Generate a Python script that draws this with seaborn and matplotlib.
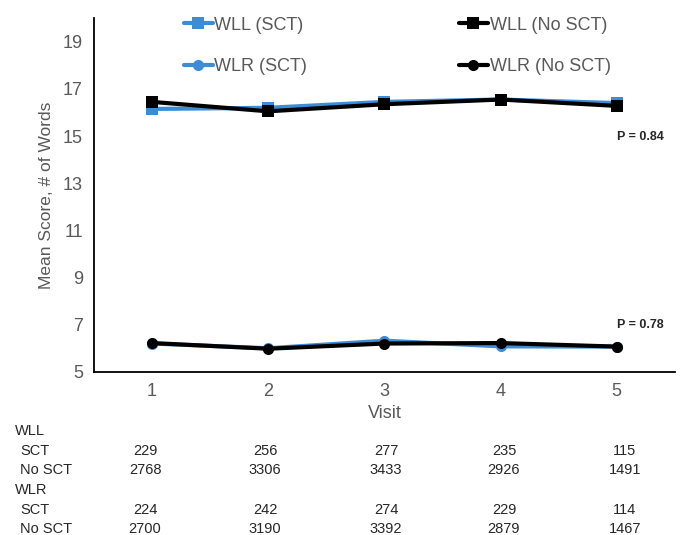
import numpy as np
import pandas as pd
import matplotlib
matplotlib.use("Agg")
import matplotlib.pyplot as plt
import seaborn as sns

visits = [1, 2, 3, 4, 5]
wll_sct = [16.15, 16.2, 16.45, 16.55, 16.4]
wll_no_sct = [16.45, 16.05, 16.35, 16.55, 16.28]
wlr_sct = [6.2, 6.0, 6.32, 6.08, 6.07]
wlr_no_sct = [6.22, 5.98, 6.2, 6.22, 6.07]

p_labels = ["P = 0.84", "P = 0.78"]
p_y = [14.95, 7.0]

table_rows = ["WLL", "SCT", "No SCT", "WLR", "SCT", "No SCT"]
wll_n_sct = [229, 256, 277, 235, 115]
wll_n_no_sct = [2768, 3306, 3433, 2926, 1491]
wlr_n_sct = [224, 242, 274, 229, 114]
wlr_n_no_sct = [2700, 3190, 3392, 2879, 1467]

BLUE = "#3a8dd6"
GREY = "#595959"

sns.set_style("white")
plt.rcParams['font.family'] = ['Liberation Sans', 'DejaVu Sans']

fig = plt.figure(figsize=(6.81, 5.35), dpi=100)
ax = fig.add_axes([0.138, 0.305, 0.853, 0.661])

series = [
    ("WLL (SCT)", wll_sct, BLUE, "s"),
    ("WLR (SCT)", wlr_sct, BLUE, "o"),
    ("WLL (No SCT)", wll_no_sct, "black", "s"),
    ("WLR (No SCT)", wlr_no_sct, "black", "o"),
]
for name, vals, col, mk in series:
    df = pd.DataFrame({"Visit": visits, "Score": vals})
    sns.lineplot(data=df, x="Visit", y="Score", ax=ax, color=col, marker=mk,
                 markersize=8, markeredgewidth=0, linewidth=3, label=name)

ax.set_xlim(0.5, 5.5)
ax.set_ylim(5, 20)
ax.set_xticks(visits)
ax.set_yticks([5, 7, 9, 11, 13, 15, 17, 19])
ax.tick_params(axis='both', labelsize=13, labelcolor=GREY, length=0, pad=8)
ax.set_xlabel("Visit", fontsize=13, color=GREY, labelpad=4)
ax.set_ylabel("Mean Score, # of Words", fontsize=12.5, color=GREY, labelpad=6)
for s in ["top", "right"]:
    ax.spines[s].set_visible(False)
for s in ["left", "bottom"]:
    ax.spines[s].set_color("black")
    ax.spines[s].set_linewidth(1.3)

leg = ax.legend(ncol=2, loc="upper center", bbox_to_anchor=(0.522, 1.05), frameon=False,
                fontsize=13, labelspacing=1.35, columnspacing=8.4, handlelength=1.6,
                handletextpad=0.1)
for t in leg.get_texts():
    t.set_color(GREY)

for lab, yv in zip(p_labels, p_y):
    ax.text(5.0, yv, lab, fontsize=9, fontweight="bold", ha="left", va="center")

# table of sample sizes under the axis
row_y = [431, 451, 470, 490, 510, 529]
row_x = [15, 20, 20, 15, 20, 20]
row_vals = [None, wll_n_sct, wll_n_no_sct, None, wlr_n_sct, wlr_n_no_sct]
col_x = [145, 265, 386, 504, 625]
for lab, yy, xx, vals in zip(table_rows, row_y, row_x, row_vals):
    fy = 1 - yy / 535
    fig.text(xx / 681, fy, lab, fontsize=10.5, ha="left", va="center")
    if vals is None:
        continue
    for cx, n in zip(col_x, vals):
        fig.text(cx / 681, fy, str(n), fontsize=10.5, ha="center", va="center")

fig.savefig("out.png", dpi=100)
